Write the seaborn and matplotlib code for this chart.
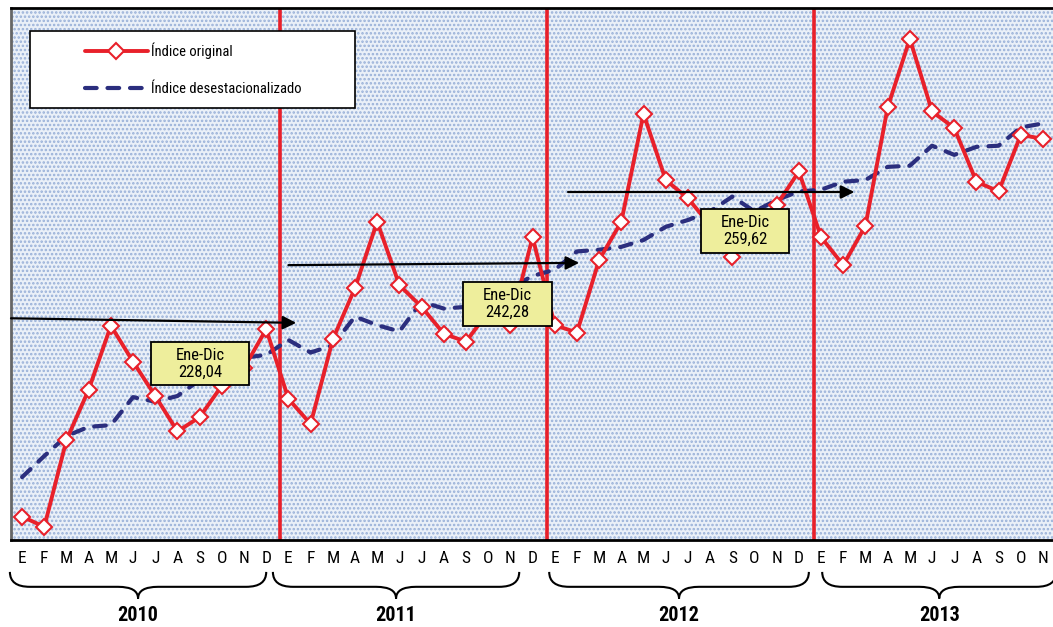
import matplotlib
matplotlib.use("Agg")
import matplotlib.pyplot as plt
import seaborn as sns
import pandas as pd
from matplotlib.lines import Line2D
from matplotlib.patches import Rectangle, PathPatch
from matplotlib.path import Path
from matplotlib.transforms import blended_transform_factory

# datos (índice mensual, ene-2010 a nov-2013)
meses = ['E', 'F', 'M', 'A', 'M', 'J', 'J', 'A', 'S', 'O', 'N', 'D']
etiquetas = meses * 3 + meses[:11]
anios = ['2010', '2011', '2012', '2013']

indice_original = [
    208.9, 207.1, 222.3, 231.1, 242.3, 236.0, 230.0, 223.8, 226.3, 231.8, 234.9, 241.7,
    229.5, 225.1, 239.9, 248.9, 260.5, 249.4, 245.6, 240.9, 239.5, 244.7, 242.4, 257.8,
    242.4, 241.1, 253.8, 260.5, 279.4, 267.8, 264.6, 259.9, 254.3, 258.7, 263.4, 269.3,
    257.8, 252.9, 259.8, 280.5, 292.5, 279.8, 276.9, 267.5, 265.8, 275.7, 275.0,
]
indice_desest = [
    215.8, 219.5, 223.0, 224.6, 224.9, 229.8, 229.0, 230.0, 232.8, 234.9, 236.7, 237.2,
    239.8, 237.6, 238.9, 243.9, 242.4, 241.3, 246.5, 245.3, 245.6, 247.2, 248.9, 251.0,
    252.1, 255.3, 255.6, 256.1, 257.3, 259.6, 260.8, 262.3, 264.9, 262.3, 264.3, 265.8,
    266.1, 267.5, 267.8, 270.1, 270.3, 273.8, 272.2, 273.6, 273.8, 277.0, 277.7,
]

# promedios anuales
promedios = ['Ene-Dic\n228,04', 'Ene-Dic\n242,28', 'Ene-Dic\n259,62']
cajas = [(5.81, 231.9, 4.42, 7.55), (19.86, 242.25, 4.01, 7.7), (30.59, 255.0, 3.96, 7.7)]
flechas = [((-0.5, 243.6), (12.35, 242.8)), ((12.0, 252.9), (25.1, 253.3)), ((24.6, 265.7), (37.5, 265.7))]
cortes = [11.6, 23.65, 35.7]
llaves = [(-0.55, 11.0), (11.3, 22.4), (23.75, 35.45), (36.05, 46.6)]

rojo = '#e8202a'
azul = '#2b2e7e'
amarillo = '#eeee9c'

df = pd.DataFrame({'mes': range(len(etiquetas)),
                   'original': indice_original,
                   'desest': indice_desest})

sns.set_style('white')
plt.rcParams['font.family'] = ['Roboto Condensed', 'DejaVu Sans']
plt.rcParams['text.color'] = 'black'
plt.rcParams['xtick.color'] = 'black'
plt.rcParams['hatch.linewidth'] = 1.2

fig = plt.figure(figsize=(10.53, 6.27), dpi=100)
ax = fig.add_axes([11 / 1053, 1 - 540 / 627, 1 - 11 / 1053, 532 / 627])

# fondo punteado
fondo = Rectangle((0, 0), 1, 1, transform=ax.transAxes, facecolor='#eaf0f8',
                  edgecolor='#98b0d8', hatch='....', lw=0, zorder=0)
ax.add_patch(fondo)

for c in cortes:
    ax.axvline(c, color=rojo, lw=2.6, zorder=1)

sns.lineplot(data=df, x='mes', y='desest', ax=ax, color=azul, lw=3.0,
             linestyle=(0, (2.8, 2.6)), dash_capstyle='round', zorder=2)
sns.lineplot(data=df, x='mes', y='original', ax=ax, color=rojo, lw=2.8,
             marker='D', markersize=8, markerfacecolor='white',
             markeredgecolor=rojo, markeredgewidth=1.5, zorder=3)

for (x0, y0), (x1, y1) in flechas:
    ax.annotate('', xy=(x1, y1), xytext=(x0, y0),
                arrowprops=dict(arrowstyle='-|>', color='black', lw=1.6,
                                mutation_scale=20, shrinkA=0, shrinkB=0),
                zorder=4)

for texto, (x, y, w, h) in zip(promedios, cajas):
    ax.add_patch(Rectangle((x, y), w, h, facecolor=amarillo, edgecolor='black',
                           lw=1.3, zorder=5))
    ax.text(x + w / 2, y + h / 2, texto, ha='center', va='center',
            fontsize=12, linespacing=1.15, zorder=6)

ax.set_xlim(-0.5, 46.45)
ax.set_ylim(204.8, 297.9)
ax.set_xticks(range(len(etiquetas)))
ax.set_xticklabels(etiquetas)
ax.set_yticks([])
ax.set_xlabel('')
ax.set_ylabel('')
ax.tick_params(axis='x', length=0, pad=8, labelsize=12.5)

for lado in ['top', 'bottom']:
    ax.spines[lado].set_color('black')
    ax.spines[lado].set_linewidth(2)
ax.spines['left'].set_color('#666666')
ax.spines['left'].set_linewidth(2)
ax.spines['right'].set_visible(False)

# leyenda
ax.add_patch(Rectangle((0.0182, 0.812), 0.312, 0.145, transform=ax.transAxes,
                       facecolor='white', edgecolor='black', lw=1.2, zorder=7))
manejadores = [
    Line2D([], [], color=rojo, lw=2.8, marker='D', markersize=8,
           markerfacecolor='white', markeredgecolor=rojo, markeredgewidth=1.5),
    Line2D([], [], color=azul, lw=3.0, linestyle=(0, (2.8, 2.6)), dash_capstyle='round'),
]
leg = ax.legend(manejadores, ['Índice original', 'Índice desestacionalizado'],
                loc='upper left', bbox_to_anchor=(0.071, 0.935), borderaxespad=0,
                borderpad=0, frameon=False, fontsize=10.5, handlelength=4.3,
                handletextpad=0.25, labelspacing=1.6, numpoints=1)
leg.set_zorder(8)

# llaves y años
trans = blended_transform_factory(ax.transData, ax.transAxes)
for anio, (x0, x1) in zip(anios, llaves):
    xm = (x0 + x1) / 2
    r = 0.9
    ya, yb, yc = -0.060, -0.088, -0.110
    verts = [(x0, ya), (x0, yb), (x0 + r, yb), (xm - r, yb), (xm, yb), (xm, yc),
             (xm, yb), (xm + r, yb), (x1 - r, yb), (x1, yb), (x1, ya)]
    codes = [Path.MOVETO, Path.CURVE3, Path.CURVE3, Path.LINETO, Path.CURVE3, Path.CURVE3,
             Path.CURVE3, Path.CURVE3, Path.LINETO, Path.CURVE3, Path.CURVE3]
    ax.add_patch(PathPatch(Path(verts, codes), transform=trans, facecolor='none',
                           edgecolor='black', lw=1.5, clip_on=False))
    ax.text(xm, -0.142, anio, transform=trans, ha='center', va='center',
            fontsize=14.5, fontweight='bold')

fig.savefig('out.png', dpi=100)
